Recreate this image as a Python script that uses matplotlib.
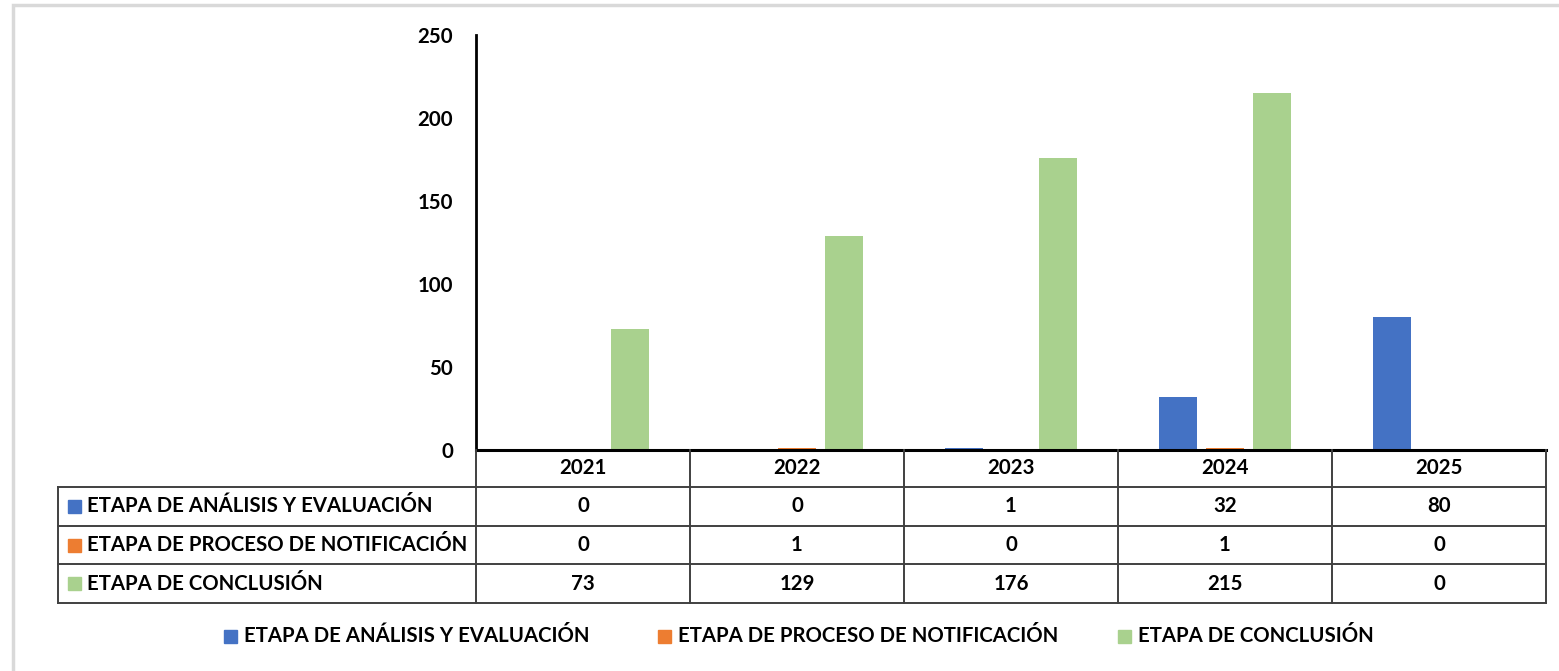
import matplotlib.pyplot as plt
from matplotlib.patches import Rectangle
from matplotlib.lines import Line2D
import numpy as np

years = ['2021', '2022', '2023', '2024', '2025']
series_names = ['ETAPA DE ANÁLISIS Y EVALUACIÓN',
                'ETAPA DE PROCESO DE NOTIFICACIÓN',
                'ETAPA DE CONCLUSIÓN']
analisis = [0, 0, 1, 32, 80]
notificacion = [0, 1, 0, 1, 0]
conclusion = [73, 129, 176, 215, 0]
colors = ['#4472C4', '#ED7D31', '#A9D18E']

plt.rcParams['font.family'] = ['Lato', 'DejaVu Sans']
plt.rcParams['font.weight'] = 'bold'
FS = 14.7

W, H = 1559, 671
fig = plt.figure(figsize=(W / 100, H / 100), dpi=100)

def fx(px):
    return px / W

def fy(py):
    return 1 - py / H

# plot area in pixels
left, right, top, bottom = 476, 1546, 35, 450
ax = fig.add_axes([fx(left), fy(bottom), fx(right - left), (bottom - top) / H])

x = np.arange(len(years))
data = [analisis, notificacion, conclusion]
width = 0.178
offset = 0.22
for i, (vals, c) in enumerate(zip(data, colors)):
    ax.bar(x + (i - 1) * offset, vals, width, color=c, zorder=2)

ax.set_xlim(-0.5, len(years) - 0.5)
ax.set_ylim(0, 250)
ax.set_yticks(range(0, 251, 50))
ax.tick_params(axis='y', length=0, labelsize=FS, pad=16.5)
ax.tick_params(axis='x', length=0, labelbottom=False)
for lab in ax.get_yticklabels():
    lab.set_fontweight('bold')
for s in ['top', 'right']:
    ax.spines[s].set_visible(False)
ax.spines['left'].set_linewidth(2)
ax.spines['bottom'].set_linewidth(2.2)
ax.spines['bottom'].set_zorder(3)

# data table below the plot
line_c = '#404040'
row_y = [450, 487, 526, 564, 603]
tab_left = 58
col_w = (right - left) / len(years)

def hline(y, x0, x1):
    fig.add_artist(Line2D([fx(x0), fx(x1)], [fy(y), fy(y)], color=line_c, lw=1.4))

def vline(xp, y0, y1):
    fig.add_artist(Line2D([fx(xp), fx(xp)], [fy(y0), fy(y1)], color=line_c, lw=1.4))

for y in row_y[1:]:
    hline(y, tab_left, right)
vline(tab_left, row_y[1], row_y[-1])
for j in range(len(years) + 1):
    vline(left + j * col_w, row_y[0], row_y[-1])

for j, yr in enumerate(years):
    cx = left + (j + 0.5) * col_w
    fig.text(fx(cx), fy((row_y[0] + row_y[1]) / 2), yr, ha='center', va='center',
             fontsize=FS, fontweight='bold')
    for i, vals in enumerate(data):
        cy = (row_y[i + 1] + row_y[i + 2]) / 2
        fig.text(fx(cx), fy(cy), str(vals[j]), ha='center', va='center',
                 fontsize=FS, fontweight='bold')

for i, (name, c) in enumerate(zip(series_names, colors)):
    cy = (row_y[i + 1] + row_y[i + 2]) / 2
    fig.add_artist(Rectangle((fx(68), fy(cy + 6.5)), fx(13), 13 / H, color=c))
    fig.text(fx(87), fy(cy), name, ha='left', va='center', fontsize=FS, fontweight='bold')

# legend at the bottom
leg_x = [224, 658, 1118]
leg_y = 636
for name, c, lx in zip(series_names, colors, leg_x):
    fig.add_artist(Rectangle((fx(lx), fy(leg_y + 6.5)), fx(13), 13 / H, color=c))
    fig.text(fx(lx + 20), fy(leg_y), name, ha='left', va='center', fontsize=FS,
             fontweight='bold')

# light frame of the chart area (top and left edges visible)
fig.add_artist(Rectangle((fx(13), fy(700)), fx(1600), 695 / H, fill=False,
                         edgecolor='#d9d9d9', lw=2.5))

fig.savefig('out.png', dpi=100)
